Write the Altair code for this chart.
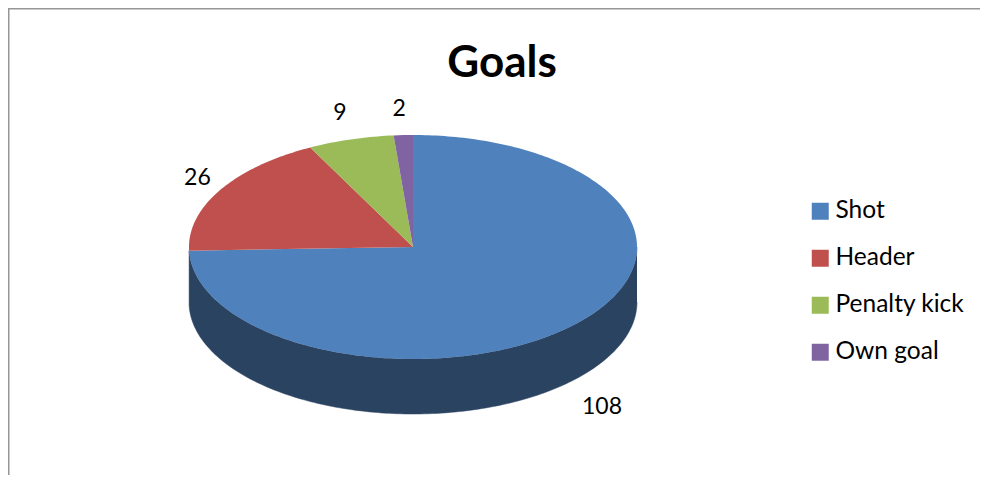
import math
import altair as alt
import pandas as pd

categories = ["Shot", "Header", "Penalty kick", "Own goal"]
values = [108, 26, 9, 2]
colors = ["#4F81BD", "#C0504D", "#9BBB59", "#8064A2"]

# Layout of the tilted pie (page pixels)
W, H = 972, 467
CX, CY, RX, RY, DEPTH = 413, 247, 224, 112, 55
SIDE = "#2A4361"
BORDER = "#969696"
LABEL_R = {"Shot": (263, 230), "Header": (250, 136), "Penalty kick": (263, 140), "Own goal": (318, 138)}

total = sum(values)


def pt(deg, dy=0.0):
    a = math.radians(deg)
    return CX + RX * math.sin(a), CY - RY * math.cos(a) + dy


wedges, labels = [], []
start = 0.0
for cat, val in zip(categories, values):
    end = start + val / total * 360
    i = 0
    wedges.append({"slice": cat, "i": i, "x": CX, "y": CY})
    steps = max(2, int(end - start))
    for s in range(steps + 1):
        i += 1
        px, py = pt(start + (end - start) * s / steps)
        wedges.append({"slice": cat, "i": i, "x": px, "y": py})
    mid = math.radians((start + end) / 2)
    rx, ry = LABEL_R[cat]
    labels.append({"text": str(val), "x": CX + rx * math.sin(mid), "y": CY - ry * math.cos(mid)})
    start = end

# Visible wall: the front of the rim, from the right edge round to the Shot/Header seam
shot_end = values[0] / total * 360
wall = []
n = int(shot_end - 90)
for s in range(n + 1):
    px, py = pt(90 + (shot_end - 90) * s / n)
    wall.append({"i": s, "x": px, "y": py})
for s in range(n + 1):
    px, py = pt(shot_end - (shot_end - 90) * s / n, DEPTH)
    wall.append({"i": n + 1 + s, "x": px, "y": py})

xs = alt.X("x:Q", axis=None, scale=alt.Scale(domain=[8, 8 + W], range=[0, W]))
ys = alt.Y("y:Q", axis=None, scale=alt.Scale(domain=[8, 8 + H], range=[0, H]))

top_rule = alt.Chart(pd.DataFrame({"a": [0]})).mark_rule(color=BORDER, strokeWidth=1.5).encode(
    x=alt.value(0), x2=alt.value(W), y=alt.value(0.75)
)
left_rule = alt.Chart(pd.DataFrame({"a": [0]})).mark_rule(color=BORDER, strokeWidth=1.5).encode(
    y=alt.value(0), y2=alt.value(H), x=alt.value(0.75)
)

wall_layer = alt.Chart(pd.DataFrame(wall)).mark_line(
    filled=True, fill=SIDE, stroke=SIDE, strokeWidth=0.5, clip=False
).encode(x=xs, y=ys, order="i:Q")

wedge_layer = alt.Chart(pd.DataFrame(wedges)).mark_line(filled=True, strokeWidth=0).encode(
    x=xs,
    y=ys,
    order="i:Q",
    color=alt.Color(
        "slice:N",
        scale=alt.Scale(domain=categories, range=colors),
        sort=categories,
        legend=alt.Legend(
            title=None,
            orient="none",
            legendX=800,
            legendY=191,
            symbolType="square",
            symbolSize=289,
            symbolStrokeWidth=0,
            symbolOpacity=1,
            labelFont="Lato",
            labelFontSize=24.5,
            labelColor="#000000",
            labelOffset=3,
            rowPadding=22,
            labelLimit=200,
        ),
    ),
)

label_layer = alt.Chart(pd.DataFrame(labels)).mark_text(
    font="Lato", fontSize=23, color="#000000", align="center", baseline="middle"
).encode(x=xs, y=ys, text="text:N")

chart = (
    alt.layer(top_rule, left_rule, wall_layer, wedge_layer, label_layer)
    .properties(
        width=W,
        height=H,
        padding=0,
        autosize=alt.AutoSizeParams(type="none"),
        title=alt.Title(
            "Goals", font="Lato", fontSize=44, fontWeight="bold", color="#000000",
            anchor="middle", dx=8, dy=83,
        ),
        background="#FFFFFF",
    )
    .configure_view(stroke=None)
)

chart.save("out.html", embed_options={"renderer": "svg", "actions": False})
